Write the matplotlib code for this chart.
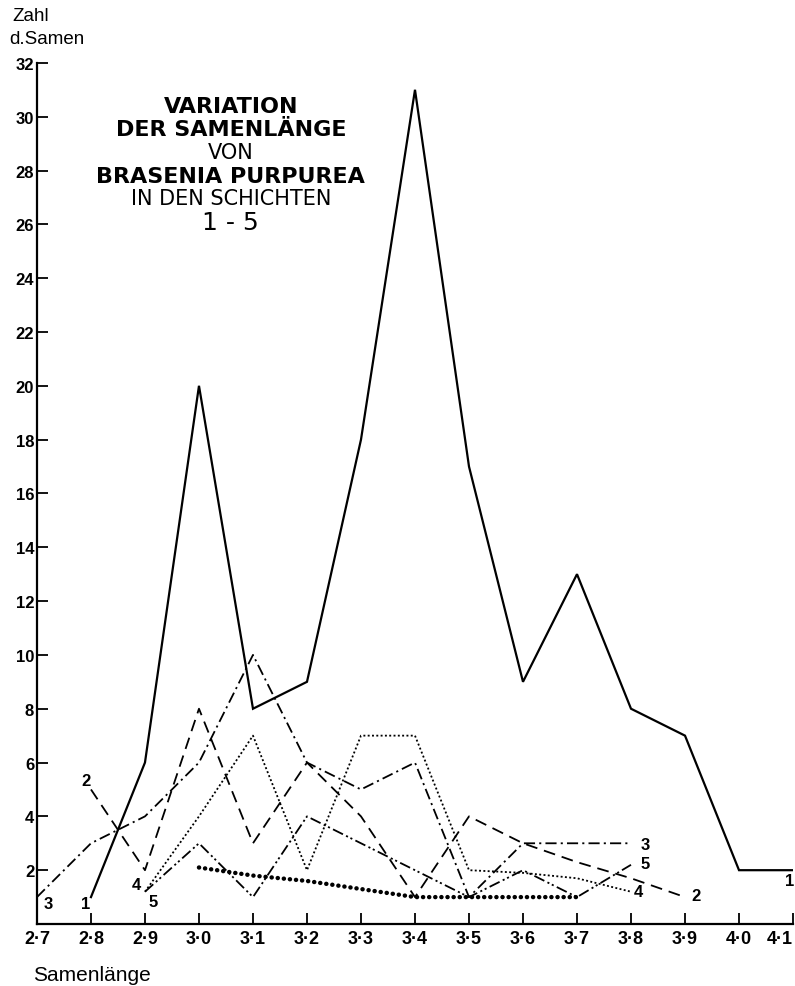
import matplotlib
matplotlib.use("Agg")
from matplotlib import pyplot as plt

plt.rcParams['font.family'] = ['Liberation Sans', 'DejaVu Sans']
plt.rcParams['lines.scale_dashes'] = False

# Samenlänge (x) und Zahl der Samen (y) je Schicht
laengen = [2.7, 2.8, 2.9, 3.0, 3.1, 3.2, 3.3, 3.4, 3.5, 3.6, 3.7, 3.8, 3.9, 4.0, 4.1]
xlabels = ["2·7", "2·8", "2·9", "3·0", "3·1", "3·2", "3·3", "3·4", "3·5", "3·6", "3·7", "3·8", "3·9", "4·0", "4·1"]

s1_x = laengen[1:]
s1 = [1, 6, 20, 8, 9, 18, 31, 17, 9, 13, 8, 7, 2, 2]

s2_x = laengen[1:13]
s2 = [5, 2, 8, 3, 6, 4, 1, 4, 3, 2.3, 1.7, 1]

s3_x = laengen[0:12]
s3 = [1, 3, 4, 6, 10, 6, 5, 6, 1, 3, 3, 3]

s4_x = laengen[2:12]
s4 = [1.2, 4, 7, 2, 7, 7, 2, 1.9, 1.7, 1.2]

s5_x = laengen[2:12]
s5 = [1.2, 3, 1, 4, 3, 2, 1, 2, 1, 2.2]

s6_x = laengen[3:11]
s6 = [2.1, 1.8, 1.6, 1.3, 1, 1, 1, 1]

fig = plt.figure(figsize=(7.95, 9.87), dpi=100)
ax = fig.add_axes([0.0465, 0.0628, 0.951, 0.8725])

k = 'black'
ax.plot(s1_x, s1, color=k, lw=1.6, solid_joinstyle='miter')
ax.plot(s2_x, s2, color=k, lw=1.3, dashes=(8.5, 5))
ax.plot(s3_x, s3, color=k, lw=1.3, dashes=(8, 3, 1.5, 3))
ax.plot(s4_x, s4, color=k, lw=1.3, dashes=(1.4, 1.7))
ax.plot(s5_x, s5, color=k, lw=1.3, dashes=(8, 2.5, 1.5, 2, 1.5, 2.5))
ax.plot(s6_x, s6, color=k, lw=3.2, dashes=(0.1, 4.3), dash_capstyle='round')

# Kurvennummern
lab = dict(fontsize=12, fontweight='bold', color=k, ha='center', va='center')
ax.text(2.72, 0.75, "3", **lab)
ax.text(2.79, 0.75, "1", **lab)
ax.text(2.79, 5.35, "2", **lab)
ax.text(2.885, 1.45, "4", **lab)
ax.text(2.915, 0.85, "5", **lab)
ax.text(3.827, 2.95, "3", **lab)
ax.text(3.827, 2.25, "5", **lab)
ax.text(3.813, 1.2, "4", **lab)
ax.text(3.92, 1.05, "2", **lab)
ax.text(4.093, 1.6, "1", **lab)

# Titelblock
tx = 3.059
bold = dict(family='DejaVu Sans', fontsize=16, fontweight='bold', ha='center', va='center')
reg = dict(family='DejaVu Sans', fontsize=15, ha='center', va='center')
ax.text(tx, 30.4, "VARIATION", **bold)
ax.text(tx, 29.55, "DER SAMENLÄNGE", **bold)
ax.text(tx, 28.7, "VON", **reg)
ax.text(tx, 27.81, "BRASENIA PURPUREA", **bold)
ax.text(tx, 26.96, "IN DEN SCHICHTEN", **reg)
ax.text(tx, 26.1, "1 - 5", family='DejaVu Sans', fontsize=18, ha='center', va='center')

ax.set_xlim(2.7, 4.1)
ax.set_ylim(0, 32)
ax.set_xticks(laengen)
ax.set_xticklabels(xlabels, fontsize=13, fontweight='bold')
ax.get_xticklabels()[-1].set_horizontalalignment('right')
ax.set_yticks(range(2, 33, 2))
ax.set_yticklabels([str(v) for v in range(2, 33, 2)], fontsize=12, fontweight='bold')
ax.tick_params(direction='in', length=8, width=1.3)
ax.tick_params(axis='x', pad=4)
ax.tick_params(axis='y', pad=2)
ax.spines['top'].set_visible(False)
ax.spines['right'].set_visible(False)
ax.spines['left'].set_linewidth(1.6)
ax.spines['bottom'].set_linewidth(1.6)

fig.text(0.015, 0.983, "Zahl", fontsize=13.5, ha='left', va='center')
fig.text(0.012, 0.960, "d.Samen", fontsize=13.5, ha='left', va='center')
fig.text(0.041, 0.012, "Samenlänge", fontsize=15, ha='left', va='center')

fig.savefig("out.png", dpi=100)
